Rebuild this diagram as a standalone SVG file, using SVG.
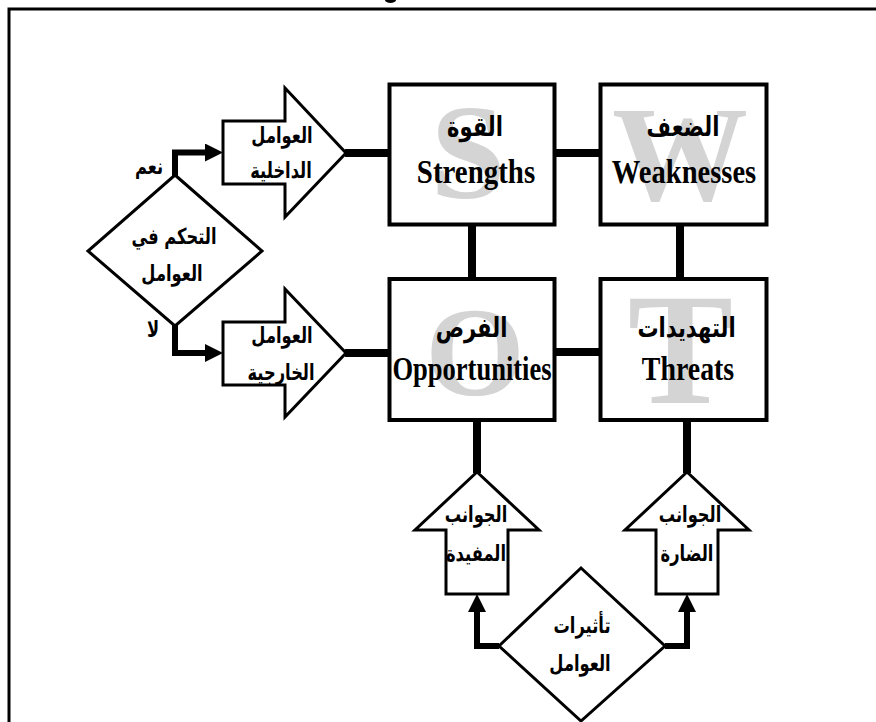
<svg xmlns="http://www.w3.org/2000/svg" width="876" height="722" viewBox="0 0 876 722">
  <style>
    .frame { fill: none; stroke: #000; stroke-width: 3; }
    .box { fill: #fff; stroke: #000; stroke-width: 4; }
    .shape { fill: #fff; stroke: #000; stroke-width: 3; stroke-linejoin: miter; }
    .link { fill: none; stroke: #000; stroke-width: 8; }
    .flow { fill: none; stroke: #000; stroke-width: 6; stroke-linejoin: miter; stroke-linecap: butt; }
    .mark { font-family: "Liberation Serif", "Times New Roman", serif; font-weight: bold; fill: #d4d4d4; text-anchor: middle; }
    .en { font-family: "Liberation Serif", "Times New Roman", serif; font-weight: bold; font-size: 34px; fill: #000; text-anchor: middle; }
    .ar { font-family: "DejaVu Sans", sans-serif; font-weight: bold; fill: #000; text-anchor: middle; }
    .title { font-size: 27px; }
    .lbl { font-size: 22px; }
  </style>
  <defs>
    <marker id="head" markerUnits="userSpaceOnUse" markerWidth="18" markerHeight="18" refX="8" refY="9" orient="auto">
      <path d="M0,0 L18,9 L0,18 z" fill="#000"/>
    </marker>
  </defs>

  <rect width="876" height="722" fill="#fff"/>
  <path class="frame" d="M9,722 V9 H876"/>
  <ellipse cx="390.5" cy="0" rx="5.5" ry="3" fill="#000"/>

  <!-- connectors -->
  <g id="connectors">
    <line class="link" x1="345" y1="153" x2="390" y2="153"/>
    <line class="link" x1="554" y1="153" x2="601" y2="153"/>
    <line class="link" x1="472" y1="224" x2="472" y2="280"/>
    <line class="link" x1="680" y1="224" x2="680" y2="280"/>
    <line class="link" x1="345" y1="353" x2="390" y2="353"/>
    <line class="link" x1="554" y1="352" x2="601" y2="352"/>
    <line class="link" x1="477" y1="419" x2="477" y2="473"/>
    <line class="link" x1="687" y1="419" x2="687" y2="473"/>
    <path class="flow" d="M175,176 V152.5 H213" marker-end="url(#head)"/>
    <path class="flow" d="M175,325 V353 H213" marker-end="url(#head)"/>
    <path class="flow" d="M499,646 H477 V604" marker-end="url(#head)"/>
    <path class="flow" d="M665,646 H687 V604" marker-end="url(#head)"/>
  </g>

  <!-- decision: control over the factors -->
  <g id="control">
    <polygon class="shape" points="175,175 262,251 175,326 88,251"/>
    <text class="ar lbl" transform="translate(174,244) scale(0.74,1)">التحكم في</text>
    <text class="ar lbl" transform="translate(172,281) scale(0.74,1)">العوامل</text>
    <text class="ar lbl" transform="translate(149,174) scale(0.74,1)">نعم</text>
    <text class="ar lbl" transform="translate(153,337) scale(0.74,1)">لا</text>
  </g>

  <!-- internal factors -->
  <g id="internal">
    <polygon class="shape" points="223,121 285,121 285,88 346,153 285,217 285,184 223,184"/>
    <text class="ar lbl" transform="translate(282,143) scale(0.74,1)">العوامل</text>
    <text class="ar lbl" transform="translate(281,178) scale(0.74,1)">الداخلية</text>
  </g>

  <!-- external factors -->
  <g id="external">
    <polygon class="shape" points="223,322 285,322 285,289 346,353 285,417 285,385 223,385"/>
    <text class="ar lbl" transform="translate(282,343) scale(0.74,1)">العوامل</text>
    <text class="ar lbl" transform="translate(281,380) scale(0.74,1)">الخارجية</text>
  </g>

  <!-- strengths -->
  <g id="strengths">
    <rect class="box" x="389.5" y="84.5" width="165" height="140"/>
    <text class="mark" x="468" y="198" font-size="135">S</text>
    <text class="ar title" transform="translate(475,136) scale(0.78,1)">القوة</text>
    <text class="en" transform="translate(476,183) scale(0.85,1)">Strengths</text>
  </g>

  <!-- weaknesses -->
  <g id="weaknesses">
    <rect class="box" x="600.5" y="84.5" width="166" height="140"/>
    <text class="mark" x="680" y="200" font-size="136">W</text>
    <text class="ar title" transform="translate(683,136) scale(0.78,1)">الضعف</text>
    <text class="en" transform="translate(684,183) scale(0.84,1)">Weaknesses</text>
  </g>

  <!-- opportunities -->
  <g id="opportunities">
    <rect class="box" x="389.5" y="279" width="165" height="141"/>
    <text class="mark" x="475" y="395" font-size="128">O</text>
    <text class="ar title" transform="translate(471.5,337) scale(0.78,1)">الفرص</text>
    <text class="en" transform="translate(472,380) scale(0.78,1)">Opportunities</text>
  </g>

  <!-- threats -->
  <g id="threats">
    <rect class="box" x="600.5" y="279" width="166" height="141"/>
    <text class="mark" x="680.5" y="403" font-size="158">T</text>
    <text class="ar title" transform="translate(686.5,337) scale(0.78,1)">التهديدات</text>
    <text class="en" transform="translate(688,380) scale(0.82,1)">Threats</text>
  </g>

  <!-- beneficial aspects -->
  <g id="beneficial">
    <polygon class="shape" points="477,472 539,530 508,530 508,594 446,594 446,530 415,530"/>
    <text class="ar lbl" transform="translate(476,522) scale(0.74,1)">الجوانب</text>
    <text class="ar lbl" transform="translate(476,561) scale(0.74,1)">المفيدة</text>
  </g>

  <!-- harmful aspects -->
  <g id="harmful">
    <polygon class="shape" points="687,472 749,530 718,530 718,594 656,594 656,530 625,530"/>
    <text class="ar lbl" transform="translate(690,522) scale(0.74,1)">الجوانب</text>
    <text class="ar lbl" transform="translate(687,561) scale(0.74,1)">الضارة</text>
  </g>

  <!-- decision: effects of the factors -->
  <g id="effects">
    <polygon class="shape" points="581,568 665,646 581,721 499,646"/>
    <text class="ar lbl" transform="translate(582,633) scale(0.74,1)">تأثيرات</text>
    <text class="ar lbl" transform="translate(580,671) scale(0.74,1)">العوامل</text>
  </g>
</svg>
